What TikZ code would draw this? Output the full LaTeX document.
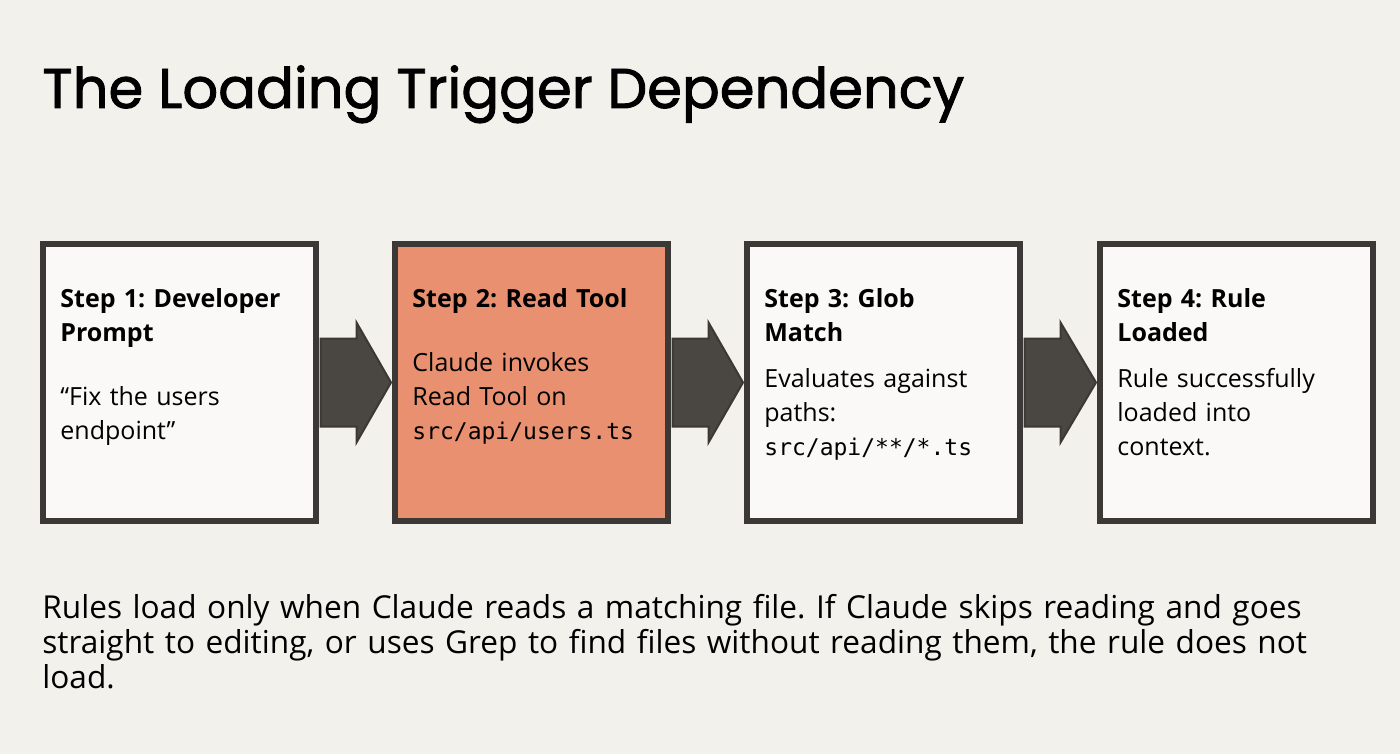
\documentclass[tikz,border=0pt]{standalone}
\usepackage{fontspec}
\setmainfont{Open Sans}
\newfontfamily\titlefont[FakeBold=1.6]{Poppins}
\setmonofont{DejaVu Sans Mono}
\usetikzlibrary{positioning,calc}
\definecolor{bgpaper}{HTML}{F3F1EC}
\definecolor{inkdark}{HTML}{3B3835}
\definecolor{arrowgray}{HTML}{4A4642}
\definecolor{clay}{HTML}{E8906F}
\frenchspacing
\begin{document}
\begin{tikzpicture}[x=0.5pt,y=-0.5pt]

\tikzset{step box/.style={
    rectangle,
    draw=inkdark,
    line width=3pt,
    fill=white!60!bgpaper,
    minimum width=136.5pt,
    minimum height=138.5pt,
    anchor=north west
}};
\tikzset{step text/.style={
    anchor=north west,
    align=left,
    text width=124pt,
    inner sep=0pt,
    font=\fontsize{12.5}{17}\selectfont
}};

\fill[bgpaper] (0,0) rectangle (1400,754);
\useasboundingbox (0,0) rectangle (1400,754);

\node[anchor=base west, inner sep=0pt, font=\titlefont\fontsize{28}{32}\selectfont] (title) at (42,108) {The Loading Trigger Dependency};

\foreach \x [count=\i] in {40, 392, 744, 1097} {
    \node[step box] (box\i) at (\x,241) {};
}
\node[step box, fill=clay] at (box2.north west) {};

\foreach \i [evaluate=\i as \j using int(\i+1)] in {1,2,3} {
    \fill[arrowgray, draw=inkdark, line width=1pt]
        ($(box\i.east)+(1.5,-44)$) -- ++(36,0) -- ++(0,-16) -- ($(box\j.west)+(-1,0)$)
        -- ($(box\i.east)+(37.5,60)$) -- ++(0,-16) -- ++(-36,0) -- cycle;
}

\node[step text] (text1) at (60,288) {\textbf{Step 1: Developer\\Prompt}\\[15pt]“Fix the users\\endpoint”};
\node[step text] (text2) at (412,288) {\textbf{Step 2: Read Tool}\\[15pt]Claude invokes\\Read Tool on\\\texttt{\fontsize{11.5}{17}\selectfont src/api/users.ts}};
\node[step text] (text3) at (764,288) {\textbf{Step 3: Glob\\Match}\\[6pt]Evaluates against\\paths:\\\texttt{\fontsize{11.5}{17}\selectfont src/api/**/*.ts}};
\node[step text] (text4) at (1117,288) {\textbf{Step 4: Rule\\Loaded}\\[6pt]Rule successfully\\loaded into\\context.};

\node[anchor=north west, align=left, inner sep=0pt, text width=645pt, font=\fontsize{15.8}{17.5}\selectfont] (note) at (42,594)
    {Rules load only when Claude reads a matching file. If Claude skips reading and goes straight to editing, or uses Grep to find files without reading them, the rule does not load.};
\end{tikzpicture}
\end{document}
